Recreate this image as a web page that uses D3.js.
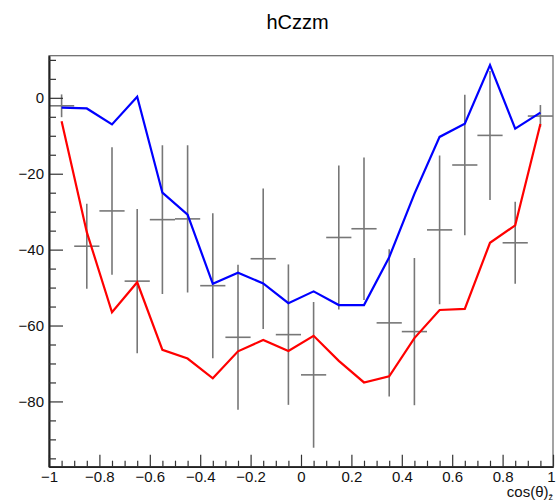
<!DOCTYPE html>
<html>
<head>
<meta charset="utf-8">
<script src="https://cdn.jsdelivr.net/npm/d3@7"></script>
<style>
  html, body { margin: 0; padding: 0; background: #fff; }
  svg { display: block; font-family: "Liberation Sans", Arial, Helvetica, sans-serif; }
</style>
</head>
<body>
<svg id="chart" width="556" height="502"></svg>
<script>
// ---- data ----
const title = "hCzzm";
const binCenters = [-0.95, -0.85, -0.75, -0.65, -0.55, -0.45, -0.35, -0.25, -0.15, -0.05,
                     0.05, 0.15, 0.25, 0.35, 0.45, 0.55, 0.65, 0.75, 0.85, 0.95];
const binHalfWidth = 0.05;
const blueSeries = [-2.6, -2.8, -7.0, 0.3, -25.0, -30.8, -49.0, -46.1, -48.9, -54.1,
                    -51.0, -54.6, -54.6, -42.0, -25.3, -10.3, -6.8, 8.6, -8.1, -3.9];
const redSeries = [-6.2, -35.4, -56.5, -48.6, -66.4, -68.7, -73.9, -66.8, -63.8, -66.7,
                   -62.7, -69.3, -75.0, -73.4, -63.3, -55.9, -55.6, -38.2, -33.6, -6.9];
const histValues = [-2.1, -39.1, -29.8, -48.3, -32.1, -31.9, -49.5, -63.1, -42.4, -62.4,
                    -73.0, -36.8, -34.5, -59.3, -61.6, -34.8, -17.7, -9.9, -38.2, -4.8];
const histErrors = [3.0, 11.2, 16.8, 19.0, 19.6, 19.4, 19.1, 19.1, 18.5, 18.5,
                    19.2, 19.0, 18.8, 19.4, 19.4, 19.6, 18.5, 17.0, 10.8, 2.9];
const xTicks = [-1, -0.8, -0.6, -0.4, -0.2, 0, 0.2, 0.4, 0.6, 0.8, 1];
const xMinorTicks = [-0.95,-0.9,-0.85,-0.75,-0.7,-0.65,-0.55,-0.5,-0.45,-0.35,-0.3,-0.25,-0.15,-0.1,-0.05,
                     0.05,0.1,0.15,0.25,0.3,0.35,0.45,0.5,0.55,0.65,0.7,0.75,0.85,0.9,0.95];
const yTicks = [-80, -60, -40, -20, 0];
const yMinorTicks = [-95,-90,-85,-75,-70,-65,-55,-50,-45,-35,-30,-25,-15,-10,-5,5,10];
const xDomain = [-1, 1];
const yDomain = [-97.2, 11.1];

// ---- layout ----
const L = 49, R = 553, T = 55.7, B = 466.7;
const svg = d3.select("#chart");
const x = d3.scaleLinear().domain(xDomain).range([L, R]);
const y = d3.scaleLinear().domain(yDomain).range([B, T]);

// frame
svg.append("rect").attr("x", L).attr("y", T).attr("width", R - L).attr("height", B - T)
  .attr("fill", "none").attr("stroke", "#666").attr("stroke-width", 1.2);

// error bars
const eb = svg.append("g").attr("stroke", "#777").attr("stroke-width", 1.6);
binCenters.forEach((c, i) => {
  eb.append("line").attr("x1", x(c)).attr("x2", x(c))
    .attr("y1", y(histValues[i] + histErrors[i])).attr("y2", y(histValues[i] - histErrors[i]));
  eb.append("line").attr("x1", x(c - binHalfWidth)).attr("x2", x(c + binHalfWidth))
    .attr("y1", y(histValues[i])).attr("y2", y(histValues[i]));
});

// lines
const line = d3.line().x((d, i) => x(binCenters[i])).y(d => y(d));
svg.append("path").datum(blueSeries).attr("d", line)
  .attr("fill", "none").attr("stroke", "#0000ff").attr("stroke-width", 2.2);
svg.append("path").datum(redSeries).attr("d", line)
  .attr("fill", "none").attr("stroke", "#ff0000").attr("stroke-width", 2.2);

// axes
const fmt = d3.format(".1~f");
const xAxis = svg.append("g").attr("transform", `translate(0,${B})`)
  .call(d3.axisBottom(x).tickValues(xTicks).tickSizeInner(-12).tickSizeOuter(0).tickPadding(18).tickFormat(fmt));
const xMinor = svg.append("g").attr("transform", `translate(0,${B})`)
  .call(d3.axisBottom(x).tickValues(xMinorTicks).tickSizeInner(-6).tickSizeOuter(0).tickFormat(""));
const yAxis = svg.append("g").attr("transform", `translate(${L},0)`)
  .call(d3.axisLeft(y).tickValues(yTicks).tickSizeInner(-14).tickSizeOuter(0).tickPadding(4).tickFormat(fmt));
const yMinor = svg.append("g").attr("transform", `translate(${L},0)`)
  .call(d3.axisLeft(y).tickValues(yMinorTicks).tickSizeInner(-7).tickSizeOuter(0).tickFormat(""));

[xAxis, xMinor, yAxis, yMinor].forEach(g => {
  g.selectAll(".domain").attr("stroke", "#222").attr("stroke-width", 1.6);
  g.selectAll(".tick line").attr("stroke", "#333").attr("stroke-width", 1.2);
  g.selectAll("text").attr("fill", "#111").style("font-size", "15px")
    .style("font-family", "'Liberation Sans', Arial, sans-serif");
});
xAxis.selectAll("text").attr("dy", "0.71em").attr("y", 5);
xAxis.selectAll(".tick").filter(d => d === 1).select("text").attr("x", -2);
yAxis.selectAll("text").attr("x", -5);

// title
svg.append("text").attr("x", 297.5).attr("y", 29).attr("text-anchor", "middle")
  .style("font-size", "20px").attr("fill", "#000").text(title);

// x axis title
const xt = svg.append("text").attr("x", 553).attr("y", 497).attr("text-anchor", "end")
  .style("font-size", "15px").attr("fill", "#111");
xt.append("tspan").text("cos(θ)");
xt.append("tspan").attr("dy", 3).style("font-size", "9px").text("z̄");
</script>
</body>
</html>
